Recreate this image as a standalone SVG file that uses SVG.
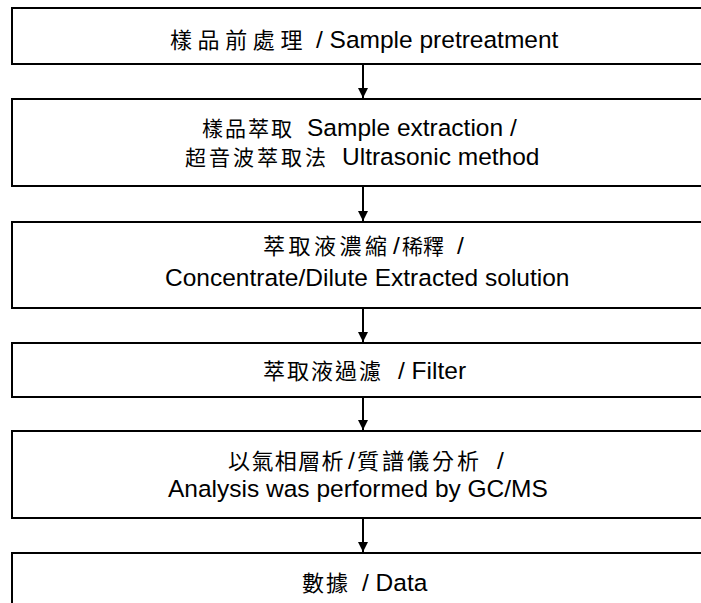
<svg xmlns="http://www.w3.org/2000/svg" width="701" height="603" viewBox="0 0 701 603">
<style>
.box{fill:#fff;stroke:#000;stroke-width:2}
text{font-family:"Liberation Sans",Arial,"Noto Sans CJK TC",sans-serif;font-size:24.5px;fill:#000}
.cjk{font-family:"Noto Sans CJK TC",sans-serif;font-size:22px;letter-spacing:2px}
.conn{stroke:#000;stroke-width:2;fill:none}
</style>
<defs>
<marker id="ah" viewBox="0 0 10 10" refX="10" refY="5" markerWidth="5" markerHeight="5" orient="auto" markerUnits="strokeWidth">
<path d="M0,0 L10,5 L0,10 z" fill="#000"/>
</marker>
</defs>
<rect width="701" height="603" fill="#fff"/>
<g id="node1">
<rect class="box" x="12" y="8" width="710" height="56"/>
<text y="48"><tspan class="cjk" x="170" style="letter-spacing:5.6px">樣品前處理</tspan><tspan x="316">/ Sample pretreatment</tspan></text>
</g>
<g id="node2">
<rect class="box" x="12" y="99" width="710" height="87"/>
<text y="136"><tspan class="cjk" x="202" style="font-size:21px;letter-spacing:2px">樣品萃取</tspan><tspan x="307">Sample extraction /</tspan></text>
<text y="165"><tspan class="cjk" x="185" style="font-size:21px;letter-spacing:3px">超音波萃取法</tspan><tspan x="342">Ultrasonic method</tspan></text>
</g>
<g id="node3">
<rect class="box" x="12" y="222" width="710" height="86"/>
<text y="254"><tspan class="cjk" x="263" style="letter-spacing:3.5px">萃取液濃縮</tspan><tspan x="393">/</tspan><tspan class="cjk" x="402" style="font-size:21px;letter-spacing:0">稀釋</tspan><tspan x="457">/</tspan></text>
<text x="165" y="286">Concentrate/Dilute Extracted solution</text>
</g>
<g id="node4">
<rect class="box" x="12" y="343" width="710" height="54"/>
<text y="379"><tspan class="cjk" x="263">萃取液過濾</tspan><tspan x="398">/ Filter</tspan></text>
</g>
<g id="node5">
<rect class="box" x="12" y="431" width="710" height="87"/>
<text y="469"><tspan class="cjk" x="228" style="letter-spacing:1.4px">以氣相層析</tspan><tspan x="348">/</tspan><tspan class="cjk" x="357" style="letter-spacing:3px">質譜儀分析</tspan><tspan x="497">/</tspan></text>
<text x="168" y="497">Analysis was performed by GC/MS</text>
</g>
<g id="node6">
<rect class="box" x="12" y="553" width="710" height="70"/>
<text y="591"><tspan class="cjk" x="302">數據</tspan><tspan x="362">/ Data</tspan></text>
</g>
<g id="connectors">
<line class="conn" x1="363" y1="65" x2="363" y2="98" marker-end="url(#ah)"/>
<line class="conn" x1="363" y1="187" x2="363" y2="221" marker-end="url(#ah)"/>
<line class="conn" x1="363" y1="309" x2="363" y2="342" marker-end="url(#ah)"/>
<line class="conn" x1="363" y1="398" x2="363" y2="430" marker-end="url(#ah)"/>
<line class="conn" x1="363" y1="519" x2="363" y2="552" marker-end="url(#ah)"/>
</g>
</svg>
